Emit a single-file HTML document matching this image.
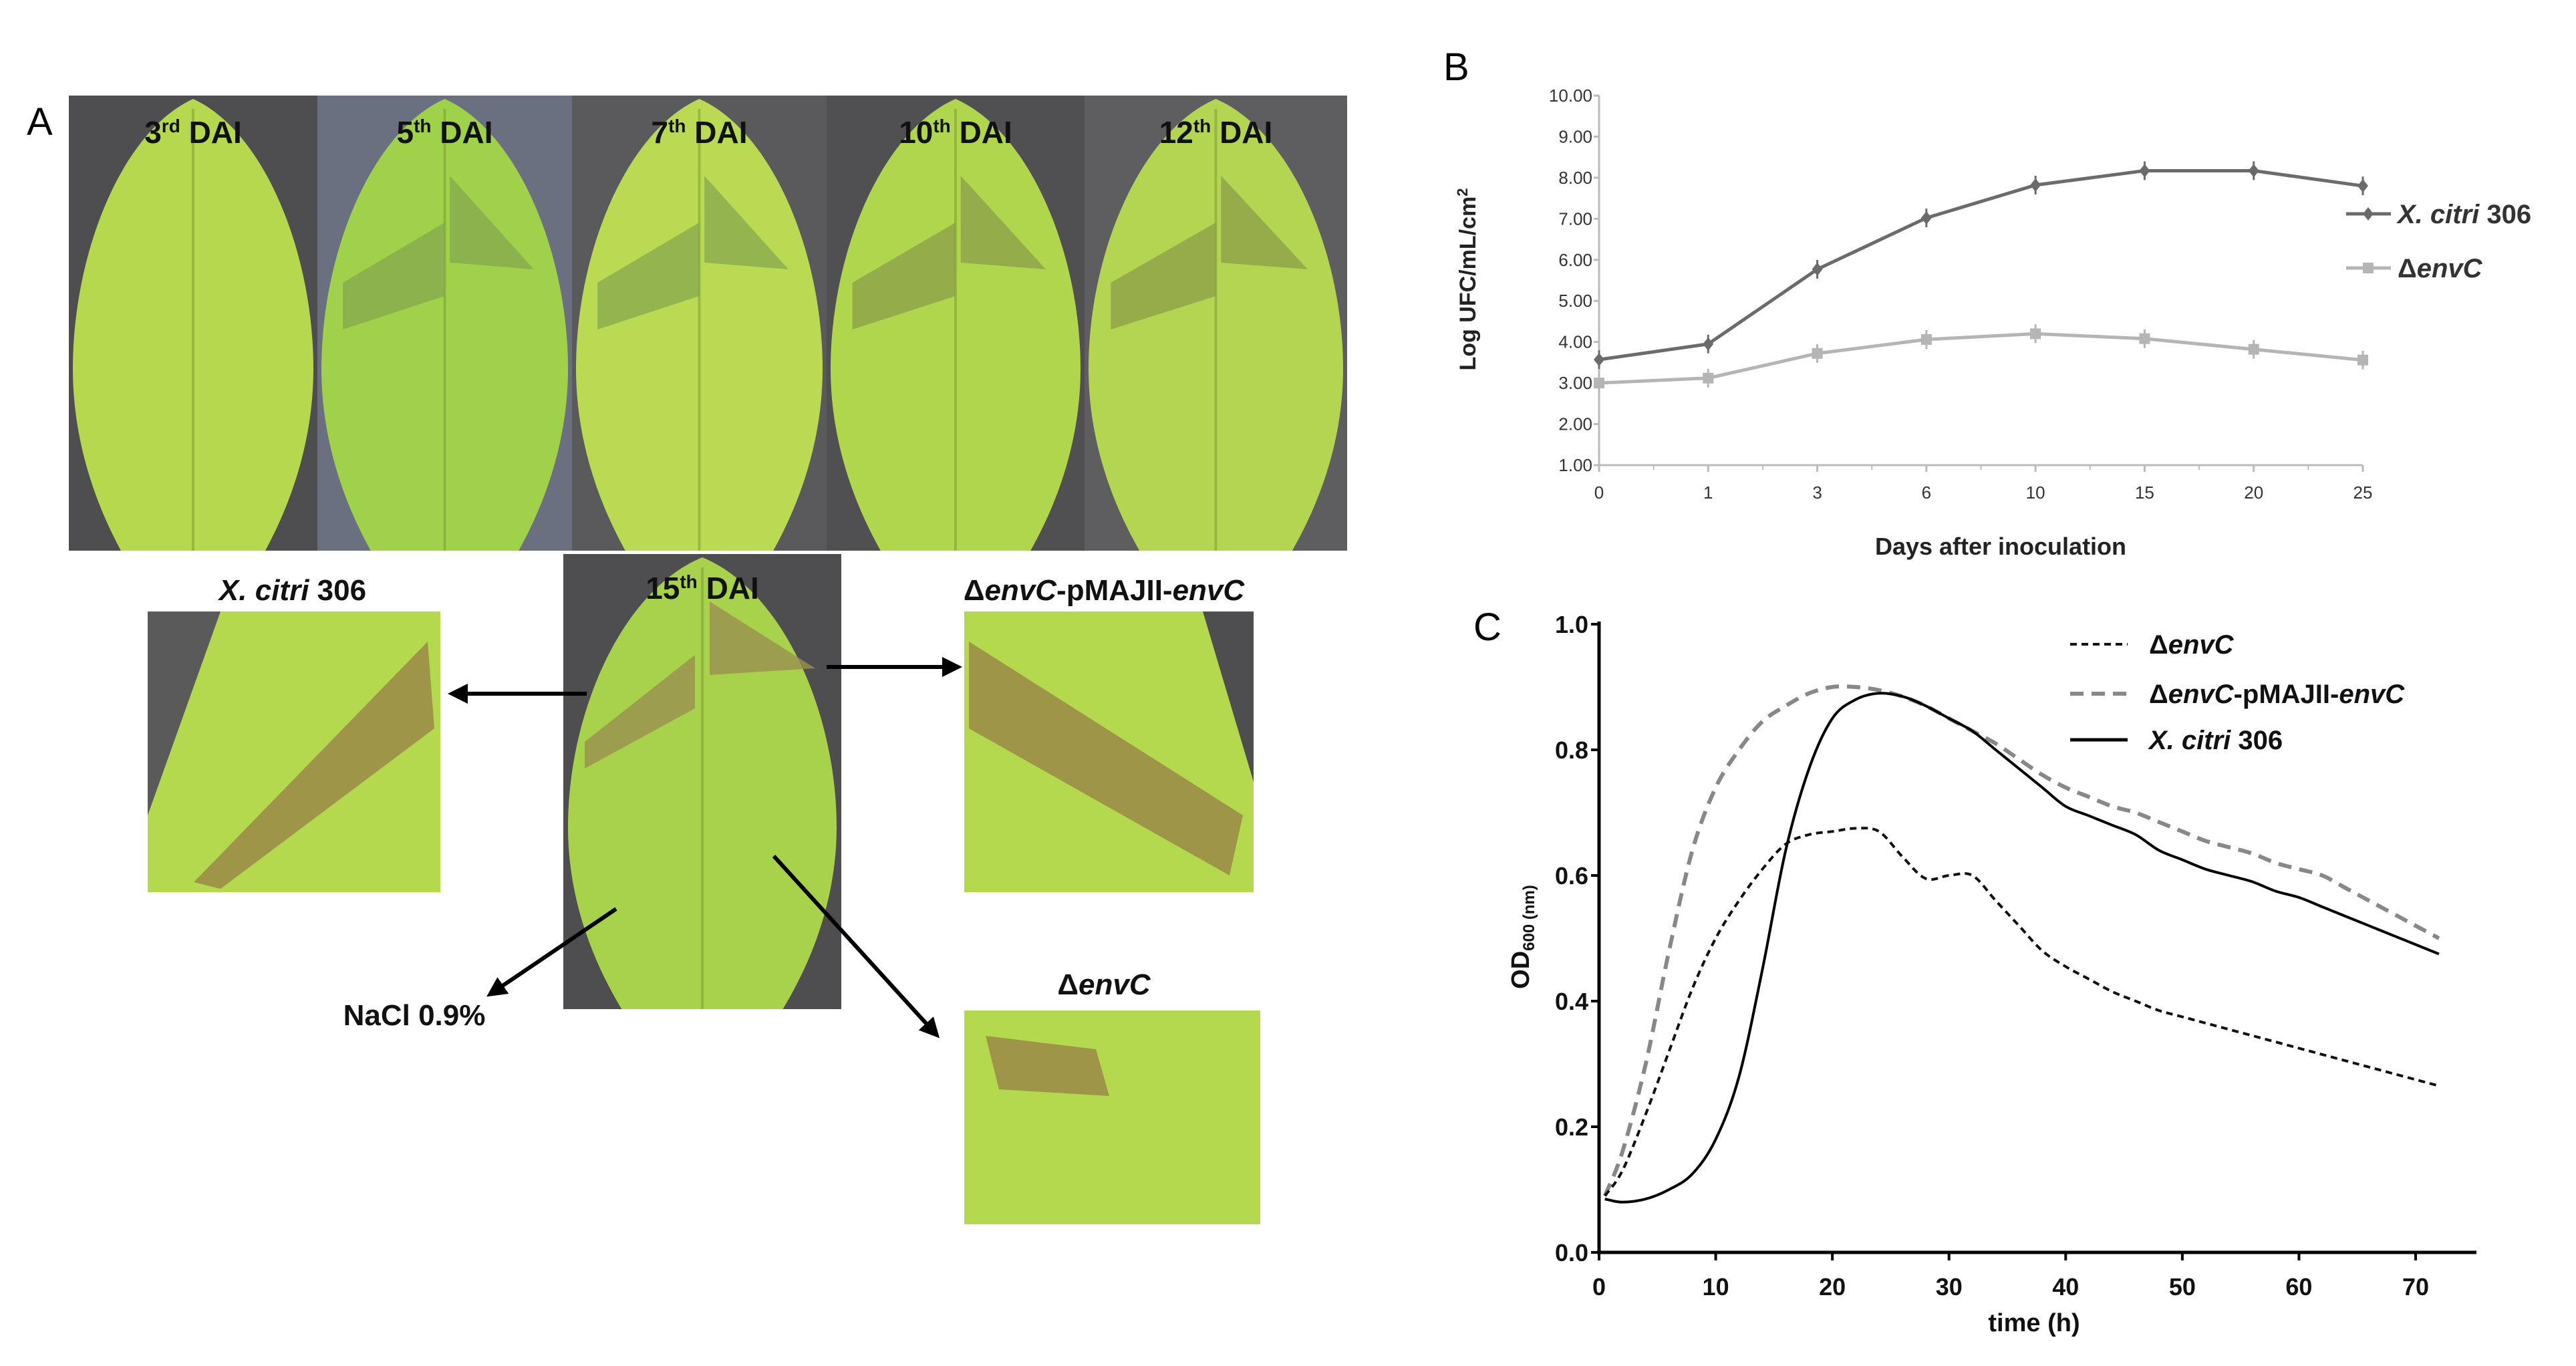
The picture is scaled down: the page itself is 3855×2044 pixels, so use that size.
<!DOCTYPE html>
<html><head><meta charset="utf-8">
<style>
html,body{margin:0;padding:0;background:#fff;overflow:hidden;}
svg{display:block;font-family:"Liberation Sans",sans-serif;}
</style></head>
<body>
<svg id="fig" width="3855" height="2044" viewBox="0 0 3855 2044" xmlns="http://www.w3.org/2000/svg">
<defs>
<marker id="ah" markerWidth="30" markerHeight="30" refX="8" refY="5" orient="auto" markerUnits="userSpaceOnUse" viewBox="0 0 10 10">
<path d="M0,0 L10,5 L0,10 z" fill="#000"/></marker>
</defs>
<g id="panelA"></g>
<g id="panelB"></g>
<g id="panelC"></g>
</svg>
<script>
// ---------- Panel B data ----------
const bDays = ["0","1","3","6","10","15","20","25"];
const bCitri = [3.57,3.95,5.77,7.02,7.82,8.17,8.17,7.80];
const bEnvC = [3.00,3.12,3.72,4.06,4.20,4.08,3.82,3.56];
const bYTicks = [1,2,3,4,5,6,7,8,9,10];
// ---------- Panel C data ----------
const cTime = [0.5,2,4,6,8,10,12,14,16,18,20,22,24,26,28,30,32,34,36,38,40,42,44,46,48,50,52,54,56,58,60,62,64,66,68,70,72];
const cCitri = [0.085,0.08,0.085,0.1,0.125,0.18,0.28,0.45,0.64,0.77,0.85,0.88,0.89,0.885,0.87,0.85,0.83,0.8,0.77,0.74,0.71,0.695,0.68,0.665,0.64,0.625,0.61,0.6,0.59,0.575,0.565,0.55,0.535,0.52,0.505,0.49,0.475];
const cComp = [0.09,0.16,0.3,0.48,0.64,0.74,0.8,0.845,0.87,0.89,0.9,0.9,0.895,0.885,0.87,0.85,0.83,0.81,0.785,0.76,0.74,0.725,0.71,0.7,0.685,0.67,0.655,0.645,0.635,0.62,0.61,0.6,0.58,0.56,0.54,0.52,0.5];
const cEnvC = [0.09,0.13,0.22,0.32,0.42,0.5,0.56,0.61,0.65,0.665,0.67,0.675,0.67,0.63,0.595,0.6,0.6,0.56,0.52,0.48,0.455,0.435,0.415,0.4,0.385,0.375,0.365,0.355,0.345,0.335,0.325,0.315,0.305,0.295,0.285,0.275,0.265];
const cXTicks = [0,10,20,30,40,50,60,70];
const cYTicks = [0,0.2,0.4,0.6,0.8,1.0];

const NS="http://www.w3.org/2000/svg";
function mk(parent,tag,attrs,text){const e=document.createElementNS(NS,tag);for(const k in attrs)e.setAttribute(k,attrs[k]);if(text!==undefined)e.textContent=text;parent.appendChild(e);return e;}

// ---------- Panel A ----------
const A=document.getElementById('panelA');
function leaf(g,x,y,w,h,col,dark){
  const cx=x+w/2;
  mk(g,'path',{d:`M${cx},${y+5} C${cx+w*0.3},${y+h*0.08} ${x+w},${y+h*0.35} ${x+w},${y+h*0.6} C${x+w},${y+h*0.8} ${x+w*0.85},${y+h*0.95} ${x+w*0.8},${y+h} L${x+w*0.2},${y+h} C${x+w*0.15},${y+h*0.95} ${x},${y+h*0.8} ${x},${y+h*0.6} C${x},${y+h*0.35} ${cx-w*0.3},${y+h*0.08} ${cx},${y+5} Z`,fill:col});
  mk(g,'line',{x1:cx,y1:y+20,x2:cx,y2:y+h,stroke:dark,'stroke-width':4,opacity:0.5});
}
let t=mk(A,'text',{x:40,y:202,'font-size':58,fill:'#000'},'A');

const topX=[103,475,856,1237,1623,2016];
const topLab=[["3","rd"],["5","th"],["7","th"],["10","th"],["12","th"]];
const bgs=['#4e4e50','#6a7080','#5a5a5c','#505052','#5e5e60'];
const leafCols=['#b6d84e','#9fd24a','#b9da52','#b0d64e','#b3d552'];
const TY=143,TH=681;
for(let i=0;i<5;i++){
  const g=mk(A,'g',{});
  
  const x=topX[i],w=topX[i+1]-x;
  mk(g,'rect',{x:x,y:TY,width:w,height:TH,fill:bgs[i]});
  leaf(g,x+6,TY,w-12,TH,leafCols[i],'#7a9a30');
  if(i>0) mk(g,'path',{d:`M${x+w*0.1},${TY+280} L${x+w*0.5},${TY+190} L${x+w*0.5},${TY+300} L${x+w*0.1},${TY+350} Z M${x+w*0.52},${TY+120} L${x+w*0.85},${TY+260} L${x+w*0.52},${TY+250} Z`,fill:i>2?'#8a9a48':'#84a450',opacity:0.7});
  const tx=mk(g,'text',{x:x+w/2,y:214,'font-size':46,'font-weight':'bold','text-anchor':'middle',fill:'#111'});
  mk(tx,'tspan',{},topLab[i][0]);mk(tx,'tspan',{'font-size':28,dy:-16},topLab[i][1]);mk(tx,'tspan',{dy:16},' DAI');
}
{const g=mk(A,'g',{});
 mk(g,'rect',{x:843,y:829,width:416,height:681,fill:'#4e4e50'});
 leaf(g,850,829,402,681,'#a9d24c','#7a9a30');
 mk(g,'path',{d:'M875,1110 L1040,980 L1040,1060 L875,1150 Z M1062,900 L1220,1000 L1062,1010 Z',fill:'#9a9050',opacity:0.8});
 const tx=mk(g,'text',{x:1051,y:896,'font-size':46,'font-weight':'bold','text-anchor':'middle',fill:'#111'});
 mk(tx,'tspan',{},'15');mk(tx,'tspan',{'font-size':28,dy:-16},'th');mk(tx,'tspan',{dy:16},' DAI');}
function inset(name,x,y,w,h,bg,lc,lesion){const g=mk(A,'g',{});
 mk(g,'rect',{x:x,y:y,width:w,height:h,fill:bg});
 mk(g,'path',{d:lc,fill:'#b4d84e'});
 if(lesion) mk(g,'path',{d:lesion,fill:'#9a8a48',opacity:0.85});}
inset('inset-x-citri',221,915,438,420,'#5a5a5a','M330,915 L659,915 L659,1335 L221,1335 L221,1220 Z','M290,1320 L640,960 L650,1090 L330,1330 Z');
inset('inset-envc-pmajii',1443,915,433,420,'#4e4e50','M1443,915 L1800,915 L1876,1170 L1876,1335 L1443,1335 Z','M1450,960 L1860,1220 L1840,1310 L1450,1090 Z');
inset('inset-envc',1443,1512,443,320,'#b0d550','M1443,1512 L1886,1512 L1886,1832 L1443,1832 Z','M1475,1550 L1640,1570 L1660,1640 L1495,1630 Z');
function lab(x,y,parts,name){const tx=mk(A,'text',{x:x,y:y,'font-size':44,'font-weight':'bold','text-anchor':'middle',fill:'#111'});
 
 parts.forEach(p=>mk(tx,'tspan',p[1]?{'font-style':'italic'}:{},p[0]));}
lab(438,898,[["X. citri",1],[" 306",0]],'label-x-citri');
lab(1652,898,[["Δ",0],["envC",1],["-pMAJII-",0],["envC",1]],'label-envc-pmajii');
lab(1652,1488,[["Δ",0],["envC",1]],'label-envc');
lab(620,1534,[["NaCl 0.9%",0]],'label-nacl');
[[878,1038,676,1038],[1237,998,1434,998],[922,1360,733,1488],[1158,1281,1402,1549]].forEach((a,i)=>{
 const l=mk(A,'line',{x1:a[0],y1:a[1],x2:a[2],y2:a[3],stroke:'#000','stroke-width':6,'marker-end':'url(#ah)'});
 
});

// ---------- Panel B ----------
const B=document.getElementById('panelB');
const bx0=2393,bx1=3536,by1=696,by10=143;
const bX=i=>bx0+i*(bx1-bx0)/(bDays.length-1);
const bY=v=>by1-(v-1)*(by1-by10)/9;
t=mk(B,'text',{x:2160,y:120,'font-size':58,fill:'#000'},'B');

let ax=mk(B,'line',{x1:bx0,y1:by10,x2:bx0,y2:by1,stroke:'#bbb','stroke-width':3});

ax=mk(B,'line',{x1:bx0,y1:by1,x2:bx1,y2:by1,stroke:'#bbb','stroke-width':3});

bYTicks.forEach(v=>{mk(B,'line',{x1:bx0-8,y1:bY(v),x2:bx0,y2:bY(v),stroke:'#bbb','stroke-width':3});
 const tl=mk(B,'text',{x:bx0-10,y:bY(v)+9,'font-size':26,'text-anchor':'end',fill:'#333'},v.toFixed(2));
 });
bDays.forEach((d,i)=>{mk(B,'line',{x1:bX(i),y1:by1,x2:bX(i),y2:by1+10,stroke:'#bbb','stroke-width':3});
 if(i<bDays.length-1) mk(B,'line',{x1:(bX(i)+bX(i+1))/2,y1:by1,x2:(bX(i)+bX(i+1))/2,y2:by1+7,stroke:'#bbb','stroke-width':2});
 const tl=mk(B,'text',{x:bX(i),y:746,'font-size':26,'text-anchor':'middle',fill:'#333'},d);
 });
t=mk(B,'text',{x:2994,y:830,'font-size':36,'font-weight':'bold','text-anchor':'middle',fill:'#222'},'Days after inoculation');

t=mk(B,'text',{x:0,y:0,'font-size':34,'font-weight':'bold','text-anchor':'middle',fill:'#222',transform:'translate(2208,418) rotate(-90)'});

mk(t,'tspan',{},'Log UFC/mL/cm');mk(t,'tspan',{'font-size':22,dy:-12},'2');
function bSeries(vals,col,name,marker){
 const p=mk(B,'polyline',{points:vals.map((v,i)=>bX(i)+','+bY(v)).join(' '),fill:'none',stroke:col,'stroke-width':5});
 
 vals.forEach((v,i)=>{let m;
  if(marker==='sq') m=mk(B,'rect',{x:bX(i)-8,y:bY(v)-8,width:16,height:16,fill:col});
  else m=mk(B,'path',{d:`M${bX(i)},${bY(v)-10} L${bX(i)+8},${bY(v)} L${bX(i)},${bY(v)+10} L${bX(i)-8},${bY(v)} Z`,fill:col});
  
  const eb=mk(B,'line',{x1:bX(i),y1:bY(v)-14,x2:bX(i),y2:bY(v)+14,stroke:col,'stroke-width':3});
  });
}
bSeries(bEnvC,'#b5b5b5','envc','sq');
bSeries(bCitri,'#6b6b6b','x-citri','dia');
let lg=mk(B,'g',{});
mk(lg,'line',{x1:3511,y1:320,x2:3578,y2:320,stroke:'#6b6b6b','stroke-width':5});
mk(lg,'path',{d:'M3544,310 L3552,320 L3544,330 L3536,320 Z',fill:'#6b6b6b'});
t=mk(lg,'text',{x:3588,y:334,'font-size':40,'font-weight':'bold',fill:'#333'});
mk(t,'tspan',{'font-style':'italic'},'X. citri');mk(t,'tspan',{},' 306');
lg=mk(B,'g',{});
mk(lg,'line',{x1:3511,y1:401,x2:3578,y2:401,stroke:'#b5b5b5','stroke-width':5});
mk(lg,'rect',{x:3536,y:393,width:16,height:16,fill:'#b5b5b5'});
t=mk(lg,'text',{x:3588,y:415,'font-size':40,'font-weight':'bold',fill:'#333'});
mk(t,'tspan',{},'Δ');mk(t,'tspan',{'font-style':'italic'},'envC');

// ---------- Panel C ----------
const C=document.getElementById('panelC');
const cx0=2393,cx70=3615,cy0=1874,cy1=934;
const cX=v=>cx0+v*(cx70-cx0)/70;
const cY=v=>cy0-v*(cy0-cy1);
t=mk(C,'text',{x:2205,y:958,'font-size':58,fill:'#000'},'C');

ax=mk(C,'line',{x1:cx0,y1:cy1-4,x2:cx0,y2:cy0+2,stroke:'#000','stroke-width':5});

ax=mk(C,'line',{x1:cx0-3,y1:cy0,x2:3706,y2:cy0,stroke:'#000','stroke-width':5});

cYTicks.forEach(v=>{mk(C,'line',{x1:cx0-12,y1:cY(v),x2:cx0,y2:cY(v),stroke:'#000','stroke-width':4});
 const tl=mk(C,'text',{x:cx0-16,y:cY(v)+13,'font-size':36,'font-weight':'bold','text-anchor':'end',fill:'#111'},v.toFixed(1));
 });
cXTicks.forEach(v=>{mk(C,'line',{x1:cX(v),y1:cy0,x2:cX(v),y2:cy0+12,stroke:'#000','stroke-width':4});
 const tl=mk(C,'text',{x:cX(v),y:1938,'font-size':36,'font-weight':'bold','text-anchor':'middle',fill:'#111'},String(v));
 });
t=mk(C,'text',{x:3044,y:1992,'font-size':38,'font-weight':'bold','text-anchor':'middle',fill:'#111'},'time (h)');

t=mk(C,'text',{x:0,y:0,'font-size':38,'font-weight':'bold','text-anchor':'middle',fill:'#111',transform:'translate(2288,1402) rotate(-90)'});

mk(t,'tspan',{},'OD');mk(t,'tspan',{'font-size':24,dy:8},'600 (nm)');
function smoothPath(xs,ys){let d=`M${cX(xs[0])},${cY(ys[0])}`;
 for(let i=1;i<xs.length;i++){const p0=[cX(xs[Math.max(0,i-2)]),cY(ys[Math.max(0,i-2)])],p1=[cX(xs[i-1]),cY(ys[i-1])],p2=[cX(xs[i]),cY(ys[i])],p3=[cX(xs[Math.min(xs.length-1,i+1)]),cY(ys[Math.min(xs.length-1,i+1)])];
  d+=` C${p1[0]+(p2[0]-p0[0])/6},${p1[1]+(p2[1]-p0[1])/6} ${p2[0]-(p3[0]-p1[0])/6},${p2[1]-(p3[1]-p1[1])/6} ${p2[0]},${p2[1]}`;}
 return d;}
let s=mk(C,'path',{d:smoothPath(cTime,cComp),fill:'none',stroke:'#888','stroke-width':6,'stroke-dasharray':'20 12'});

s=mk(C,'path',{d:smoothPath(cTime,cEnvC),fill:'none',stroke:'#111','stroke-width':4,'stroke-dasharray':'10 7'});

s=mk(C,'path',{d:smoothPath(cTime,cCitri),fill:'none',stroke:'#000','stroke-width':4});

const legC=[[964,'#111',4,'10 7',[["Δ",0],["envC",1]],'legend-entry-envc'],
 [1038,'#888',6,'20 12',[["Δ",0],["envC",1],["-pMAJII-",0],["envC",1]],'legend-entry-envc-pmajii'],
 [1107,'#000',5,'',[["X. citri",1],[" 306",0]],'legend-entry-x-citri']];
legC.forEach(L=>{const g=mk(C,'g',{});
 const a={x1:3098,y1:L[0],x2:3184,y2:L[0],stroke:L[1],'stroke-width':L[2]};if(L[3])a['stroke-dasharray']=L[3];mk(g,'line',a);
 const tx=mk(g,'text',{x:3216,y:L[0]+14,'font-size':40,'font-weight':'bold',fill:'#111'});
 L[4].forEach(p=>mk(tx,'tspan',p[1]?{'font-style':'italic'}:{},p[0]));});
</script>
</body></html>
